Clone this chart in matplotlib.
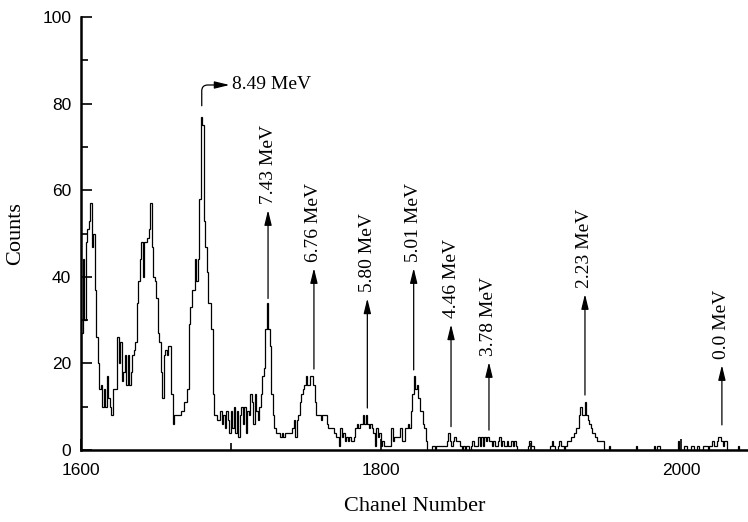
#Channel spectrum with peak labels

import matplotlib.pyplot as plt
import numpy as np

plt.rcParams['font.family'] = ['Liberation Serif', 'DejaVu Serif']

first_channel = 1600

# counts per channel in blocks
counts_1600 = [27, 44, 30, 48, 51, 53, 57, 47, 50, 37,
               26, 20, 14, 15, 10, 14, 10, 17, 12, 10,
               8, 14, 14, 14, 26, 20, 25, 16, 18, 22,
               15, 22, 15, 18, 22, 23, 25, 34, 39, 44,
               48, 40, 48, 48, 49, 51, 57, 47, 40, 39,
               35, 27, 25, 18, 12, 22, 23, 22, 24, 24]
counts_1660 = [13, 6, 8, 8, 8, 8, 8, 9, 9, 11,
               11, 14, 29, 33, 37, 37, 44, 39, 44, 58,
               77, 75, 53, 47, 41, 34, 34, 28, 13, 8,
               8, 7, 7, 9, 6, 8, 5, 9, 7, 4,
               9, 5, 10, 4, 9, 3, 8, 10, 6, 10,
               4, 9, 8, 13, 11, 6, 13, 9, 7, 10]
counts_1720 = [13, 17, 19, 28, 34, 28, 24, 13, 8, 5,
               4, 4, 4, 3, 4, 3, 4, 4, 4, 4,
               4, 5, 7, 3, 7, 8, 11, 13, 14, 15,
               17, 15, 15, 17, 17, 15, 11, 8, 8, 8,
               7, 8, 8, 8, 6, 5, 5, 5, 5, 4,
               3, 3, 1, 5, 3, 4, 2, 3, 2, 3,
               2, 2, 3, 5, 6, 5, 6, 6, 8, 6,
               8, 6, 5, 6, 5, 4, 1, 5]
counts_1798 = [3, 4, 1, 2, 1, 1, 1, 1, 1, 5,
               2, 3, 3, 3, 3, 5, 2, 2, 5, 5,
               6, 5, 9, 13, 17, 14, 15, 12, 9, 9,
               6, 5, 2, 0, 0, 0, 1, 1, 0, 1,
               1, 1, 1, 1, 1, 1, 2, 4, 2, 1,
               2, 3, 2, 2, 2, 1, 0, 1, 0, 1,
               1, 0, 1, 2, 1, 1, 1, 3, 1, 3,
               1, 3, 2, 3, 2, 2, 1, 2, 1, 1,
               2, 3, 1, 2, 1, 1, 2, 1, 1, 2,
               1, 2, 1, 0]
counts_1892 = [0, 0, 0, 0, 0, 0, 1, 2, 1, 1,
               0, 0, 0, 0, 0, 0, 0, 0, 0, 0,
               0, 1, 2, 1, 0, 0, 1, 2, 1, 1,
               0, 1, 2, 2, 2, 3, 3, 4, 5, 5,
               8, 10, 8, 8, 11, 8, 7, 6, 5, 4,
               4, 3, 2, 2, 2, 2, 2, 0, 0, 0,
               1, 0, 0, 0, 0, 0, 0, 0, 0, 0,
               0, 0, 0, 0, 0, 0, 0, 0, 1, 0,
               0, 0, 0, 0, 0, 0, 0, 0, 0, 0,
               1, 0, 1, 1, 0, 0, 0, 0, 0, 0,
               0, 0, 0, 0, 0, 0, 2, 0, 0, 0,
               1, 1, 0, 0, 0, 1, 1, 0, 0, 1,
               0, 0, 0, 1, 1, 1, 0, 1, 1, 2,
               1, 1, 2, 3, 3, 2, 1, 2, 2, 0,
               0, 0, 0, 0, 0, 0, 1, 0, 0, 0,
               0, 0, 0]

# peak labels: channel of arrow, arrow base, arrow tip (counts)
peak_labels = ['7.43 MeV', '6.76 MeV', '5.80 MeV', '5.01 MeV', '4.46 MeV',
               '3.78 MeV', '2.23 MeV', '0.0 MeV']
peak_channels = [1724.7, 1755.3, 1790.9, 1821.8, 1846.7, 1872.0, 1936.0, 2027.3]
arrow_base = [35, 18.7, 9.7, 18.5, 5.4, 4.6, 12.7, 5.8]
arrow_tip = [55.4, 42, 35, 42, 29, 20.3, 36, 19.6]

counts = np.array(counts_1600 + counts_1660 + counts_1720 + counts_1798 + counts_1892)
edges = np.arange(first_channel, first_channel + len(counts) + 1)

fig = plt.figure(figsize=(7.48, 5.22), dpi=100)
ax = fig.add_axes([0.1083, 0.1379, 0.8917, 0.8295])

ax.stairs(counts, edges, color='black', lw=0.9)

for lab, ch, y0, y1 in zip(peak_labels, peak_channels, arrow_base, arrow_tip):
    ax.annotate('', xy=(ch, y1), xytext=(ch, y0),
                arrowprops=dict(arrowstyle='-|>,head_width=0.22,head_length=0.9',
                                color='black', lw=0.9, mutation_scale=10,
                                shrinkA=0, shrinkB=0))
    ax.text(ch, y1 + 1.5, lab, rotation=90, ha='center', va='bottom', fontsize=14)

# curved arrow for the big peak
ax.annotate('', xy=(1699, 84.3), xytext=(1680.5, 79.5),
            arrowprops=dict(arrowstyle='-|>,head_width=0.22,head_length=0.9',
                            color='black', lw=0.9, mutation_scale=10,
                            shrinkA=0, shrinkB=0,
                            connectionstyle='angle,angleA=90,angleB=180,rad=6'))
ax.text(1701, 84.3, '8.49 MeV', ha='left', va='center', fontsize=14)

ax.set_xlim(1600, 2044.7)
ax.set_ylim(0, 100)
ax.set_xticks([1600, 1800, 2000])
ax.set_xticks([1700, 1900], minor=True)
ax.set_yticks(np.arange(0, 101, 20))
ax.set_yticks(np.arange(10, 100, 20), minor=True)
ax.tick_params(which='both', direction='in', width=1.2)
ax.tick_params(which='major', length=8, pad=7)
ax.tick_params(axis='x', which='major', pad=9)
ax.tick_params(which='minor', length=5)
for lab in ax.get_xticklabels() + ax.get_yticklabels():
    lab.set_family('Liberation Sans')
    lab.set_fontsize(12.5)

for side in ['top', 'right']:
    ax.spines[side].set_visible(False)
for side in ['left', 'bottom']:
    ax.spines[side].set_linewidth(1.8)

ax.set_xlabel('Chanel Number', fontsize=16, labelpad=14)
ax.set_ylabel('Counts', fontsize=16, labelpad=12)

fig.savefig('out.png', dpi=100)
